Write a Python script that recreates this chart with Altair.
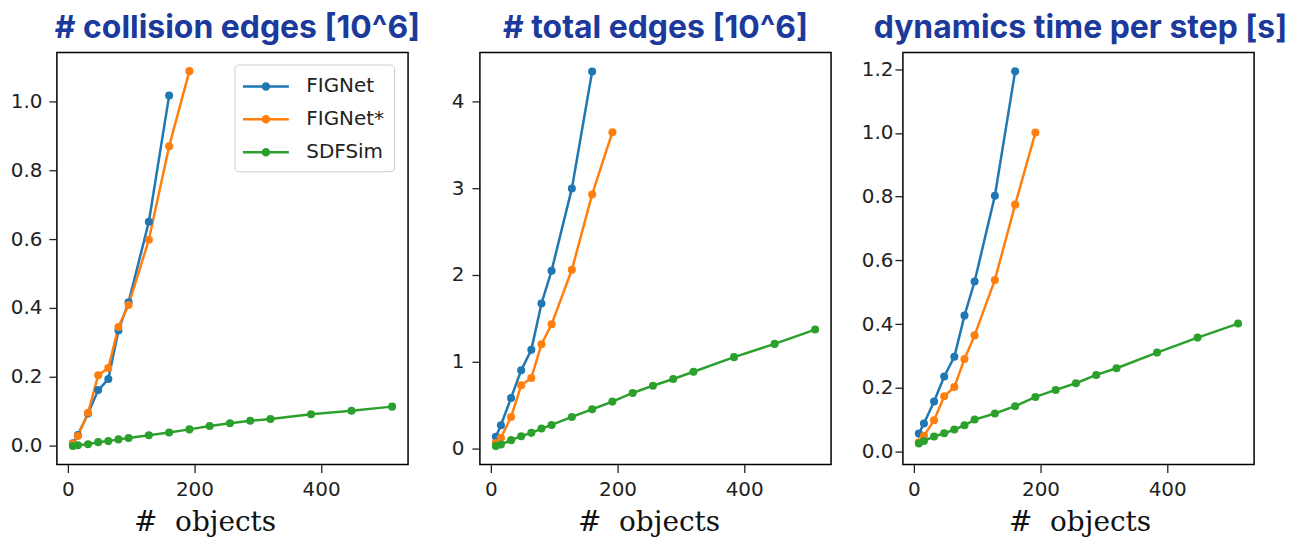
import altair as alt
import pandas as pd

# ---------------- data ----------------
objects = [8, 16, 32, 48, 64, 80, 96, 128, 160, 192, 224, 256, 288, 320, 384, 448, 512]
methods = ["FIGNet", "FIGNet*", "SDFSim"]
colors = ["#1f77b4", "#ff7f0e", "#2ca02c"]

titles = ["# collision edges [10^6]", "# total edges [10^6]", "dynamics time per step [s]"]

# collision edges [10^6]
coll_fignet = [0.008, 0.032, 0.094, 0.162, 0.194, 0.335, 0.417, 0.650, 1.016]
coll_fignet_star = [0.006, 0.029, 0.096, 0.205, 0.226, 0.345, 0.409, 0.598, 0.869, 1.087]
coll_sdfsim = [0.000, 0.002, 0.005, 0.011, 0.014, 0.019, 0.023, 0.031, 0.039, 0.048,
               0.058, 0.066, 0.073, 0.078, 0.092, 0.102, 0.114]

# total edges [10^6]
total_fignet = [0.13, 0.265, 0.58, 0.90, 1.135, 1.67, 2.05, 3.00, 4.35]
total_fignet_star = [0.06, 0.12, 0.36, 0.725, 0.81, 1.20, 1.43, 2.06, 2.93, 3.65]
total_sdfsim = [0.023, 0.042, 0.092, 0.138, 0.176, 0.226, 0.268, 0.36, 0.449, 0.537,
                0.637, 0.721, 0.798, 0.882, 1.051, 1.204, 1.369]

# dynamics time per step [s]
time_fignet = [0.057, 0.089, 0.158, 0.236, 0.298, 0.427, 0.534, 0.803, 1.193]
time_fignet_star = [0.03, 0.05, 0.099, 0.174, 0.203, 0.291, 0.365, 0.539, 0.775, 1.001]
time_sdfsim = [0.026, 0.034, 0.048, 0.058, 0.070, 0.083, 0.101, 0.120, 0.143, 0.172,
               0.194, 0.215, 0.241, 0.262, 0.311, 0.358, 0.402]

series = [
    [coll_fignet, coll_fignet_star, coll_sdfsim],
    [total_fignet, total_fignet_star, total_sdfsim],
    [time_fignet, time_fignet_star, time_sdfsim],
]

y_domains = [[-0.054, 1.141], [-0.19, 4.57], [-0.04, 1.252]]
y_ticks = [[0, 0.2, 0.4, 0.6, 0.8, 1.0], [0, 1, 2, 3, 4], [0, 0.2, 0.4, 0.6, 0.8, 1.0, 1.2]]
y_formats = [".1f", "d", ".1f"]
x_ticks = [0, 200, 400]
y_label_pad = [7, 8, 2]
x_title_x = [148, 169, 177]
title_dx = [5, 0, 2]

TITLE_COLOR = "#1b3a9b"
LEG_SYMBOL = ("M-2,0H2"
              "M-0.261,0A0.261,0.261,0,1,0,0.261,0A0.261,0.261,0,1,0,-0.261,0"
              "M-0.104,0A0.104,0.104,0,1,0,0.104,0A0.104,0.104,0,1,0,-0.104,0")


def make_df(i):
    rows = []
    for m, vals in zip(methods, series[i]):
        for o, v in zip(objects, vals):
            rows.append({"method": m, "objects": o, "value": v})
    return pd.DataFrame(rows)


def panel(i):
    df = make_df(i)
    if i == 0:
        legend = alt.Legend(
            title=None, orient="none", legendX=178, legendY=12,
            padding=9, strokeColor="#cccccc", cornerRadius=4, fillColor="white",
            labelFont="DejaVu Sans", labelFontSize=20, labelColor="#222222",
            labelExpr="datum.label + '\u00a0'",
            symbolType=LEG_SYMBOL, symbolSize=529, symbolStrokeWidth=2.5,
            symbolOffset=9.5, labelOffset=27.5, rowPadding=10,
        )
    else:
        legend = None
    color = alt.Color("method:N", scale=alt.Scale(domain=methods, range=colors), legend=legend)
    x = alt.X(
        "objects:Q",
        scale=alt.Scale(domain=[-17.2, 537.2], nice=False, zero=False),
        axis=alt.Axis(values=x_ticks, format="d", title="#\u00a0\u00a0objects",
                      titleX=x_title_x[i], titleY=66, titleBaseline="alphabetic",
                      titleAlign="center", titleAnchor="start"),
    )
    y = alt.Y(
        "value:Q",
        scale=alt.Scale(domain=y_domains[i], nice=False, zero=False),
        axis=alt.Axis(values=y_ticks[i], format=y_formats[i], title=None,
                      labelPadding=y_label_pad[i]),
    )
    base = alt.Chart(df)
    lines = base.mark_line(strokeWidth=2.5).encode(x=x, y=y, color=color, detail="method:N")
    pts = base.mark_circle(size=65, opacity=1).encode(x=x, y=y, color=color)
    return alt.layer(lines, pts).properties(
        width=352, height=413,
        title=alt.TitleParams(
            text=titles[i], font="Inter", fontSize=32, fontWeight=700,
            color=TITLE_COLOR, anchor="middle", baseline="alphabetic",
            offset=-17, dx=title_dx[i],
        ),
    )


chart = (
    alt.hconcat(panel(0), panel(1), panel(2), spacing=72, bounds="flush")
    .resolve_scale(x="independent", y="independent", color="independent")
    .resolve_legend(color="independent")
    .properties(padding={"left": 1, "top": 2, "right": 0, "bottom": 0}, background="white")
    .configure_view(stroke="black", strokeWidth=1.5)
    .configure_axis(
        domain=False, grid=False,
        tickColor="#222222", tickSize=8, tickWidth=1.3,
        labelFont="DejaVu Sans", labelFontSize=20, labelColor="#222222",
        titleFont="DejaVu Serif", titleFontSize=28, titleFontWeight="normal",
        titleColor="#111111",
    )
    .configure_axisX(labelPadding=7)
)

chart.save("out.html", embed_options={"renderer": "svg", "actions": False})
